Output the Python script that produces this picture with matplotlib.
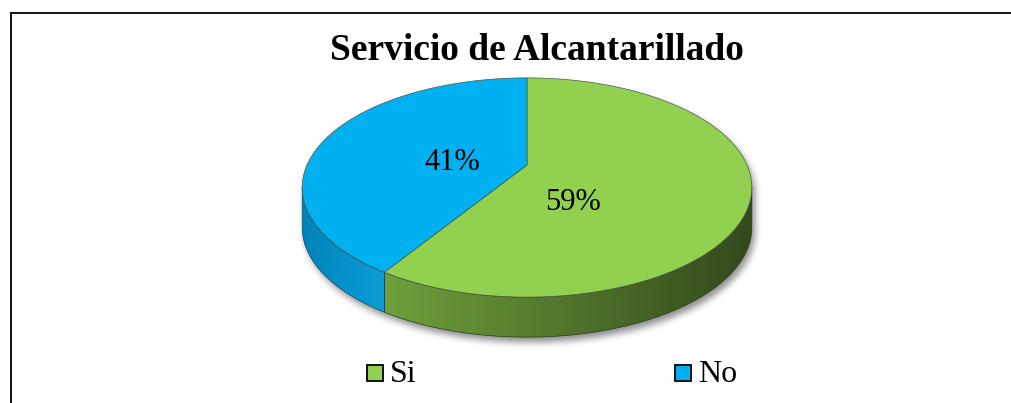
import numpy as np
import matplotlib
matplotlib.use('Agg')
import matplotlib.pyplot as plt
from matplotlib.patches import Polygon, Rectangle
from matplotlib.path import Path
from matplotlib.colors import LinearSegmentedColormap

# Datos
categorias = ['Si', 'No']
valores = [59, 41]
colores_top = ['#92D050', '#00B0F0']
colores_lado = [('#6FA03C', '#34491C'), ('#0083BA', '#0B9DD6')]
bordes_lado = ['#2a3a1a', '#0a4a66']
titulo = 'Servicio de Alcantarillado'

W, H = 1012, 403
fig = plt.figure(figsize=(W / 100, H / 100), dpi=100)
ax = fig.add_axes([0, 0, 1, 1])
ax.set_xlim(0, W)
ax.set_ylim(H, 0)
ax.axis('off')

# Geometría de la torta 3D (perspectiva simple)
cx, cy, a, b, d, prof = 527, 165, 220, 105, 4.87, 40


def proj(theta, drop=0.0):
    t = np.radians(theta)
    u, v = np.cos(t), -np.sin(t)
    s = d / (d - v)
    return cx + a * u * s, cy + b * v * s + drop


def arco(t0, t1, drop=0.0, n=200):
    ts = np.linspace(t0, t1, n)
    x, y = proj(ts, drop)
    return np.column_stack([x, y])


# extremos laterales visibles
ts = np.linspace(90, 450, 3601)
xs, _ = proj(ts)
tL = ts[np.argmin(xs)]
tR = ts[np.argmax(xs)]

# ángulos de las porciones (sentido horario desde las 12)
total = sum(valores)
bordes = [90.0]
for v in valores:
    bordes.append(bordes[-1] - v / total * 360)
rangos = [(bordes[i + 1] % 360, bordes[i] % 360) for i in range(len(valores))]
rangos = [(t0, t1 if t1 > t0 else t1 + 360) for t0, t1 in rangos]

# sombra difuminada
forma = np.vstack([arco(tR - 360, tL), arco(tL, tR, prof)])
gx, gy = np.meshgrid(np.arange(W) + 0.5, np.arange(H) + 0.5)
mask = Path(forma).contains_points(np.column_stack([gx.ravel() - 3, gy.ravel() - 5])).reshape(H, W).astype(float)
k = np.ones(7) / 7
for _ in range(3):
    mask = np.apply_along_axis(lambda r: np.convolve(r, k, mode='same'), 1, mask)
    mask = np.apply_along_axis(lambda c: np.convolve(c, k, mode='same'), 0, mask)
sombra = np.zeros((H, W, 4))
sombra[..., 3] = mask * 0.45
ax.imshow(sombra, extent=(0, W, H, 0), zorder=1, interpolation='bilinear')

# caras laterales con degradado
for (t0, t1), (c0, c1), ce in zip(rangos, colores_lado, bordes_lado):
    lo, hi = max(t0, tL), min(t1, tR)
    if t0 > tR or t1 < tL:
        lo, hi = max(t0 - 360, tL), min(t1 - 360, tR)
    if hi <= lo:
        continue
    pts = np.vstack([arco(lo, hi), arco(hi, lo, prof)])
    poly = Polygon(pts, closed=True, facecolor='none', edgecolor=ce, lw=0.5, zorder=3)
    ax.add_patch(poly)
    x0, x1 = pts[:, 0].min(), pts[:, 0].max()
    y0, y1 = pts[:, 1].min(), pts[:, 1].max()
    cmap = LinearSegmentedColormap.from_list('g', [c0, c1])
    im = ax.imshow(np.linspace(0, 1, 256)[None, :], cmap=cmap, extent=(x0, x1, y1, y0),
                   aspect='auto', zorder=2)
    im.set_clip_path(poly)

# caras superiores
for (t0, t1), col in zip(rangos, colores_top):
    pts = np.vstack([[cx, cy], arco(t0, t1)])
    ax.add_patch(Polygon(pts, closed=True, facecolor=col, edgecolor='#4a5a4a', lw=0.5, zorder=4))

# etiquetas de porcentaje
pos_etiquetas = [(573, 203), (452, 162)]
for v, (x, y) in zip(valores, pos_etiquetas):
    ax.text(x, y, f'{v}%', ha='center', va='center', fontsize=22,
            family='Liberation Serif', zorder=5)

# título
ax.text(537, 50, titulo, ha='center', va='center', fontsize=27, fontweight='bold',
        family='Liberation Serif')

# leyenda
pos_leyenda = [367, 675]
for cat, col, x in zip(categorias, colores_top, pos_leyenda):
    ax.add_patch(Rectangle((x, 365), 16, 16, facecolor=col, edgecolor='black', lw=1.3))
    ax.text(x + 23, 374, cat, ha='left', va='center', fontsize=23, family='Liberation Serif')

# marco
ax.plot([11.5, 11.5], [H, 13], color='black', lw=1.3, solid_capstyle='projecting')
ax.plot([11.5, W], [13, 13], color='black', lw=1.3, solid_capstyle='projecting')

fig.savefig('out.png', dpi=100)
